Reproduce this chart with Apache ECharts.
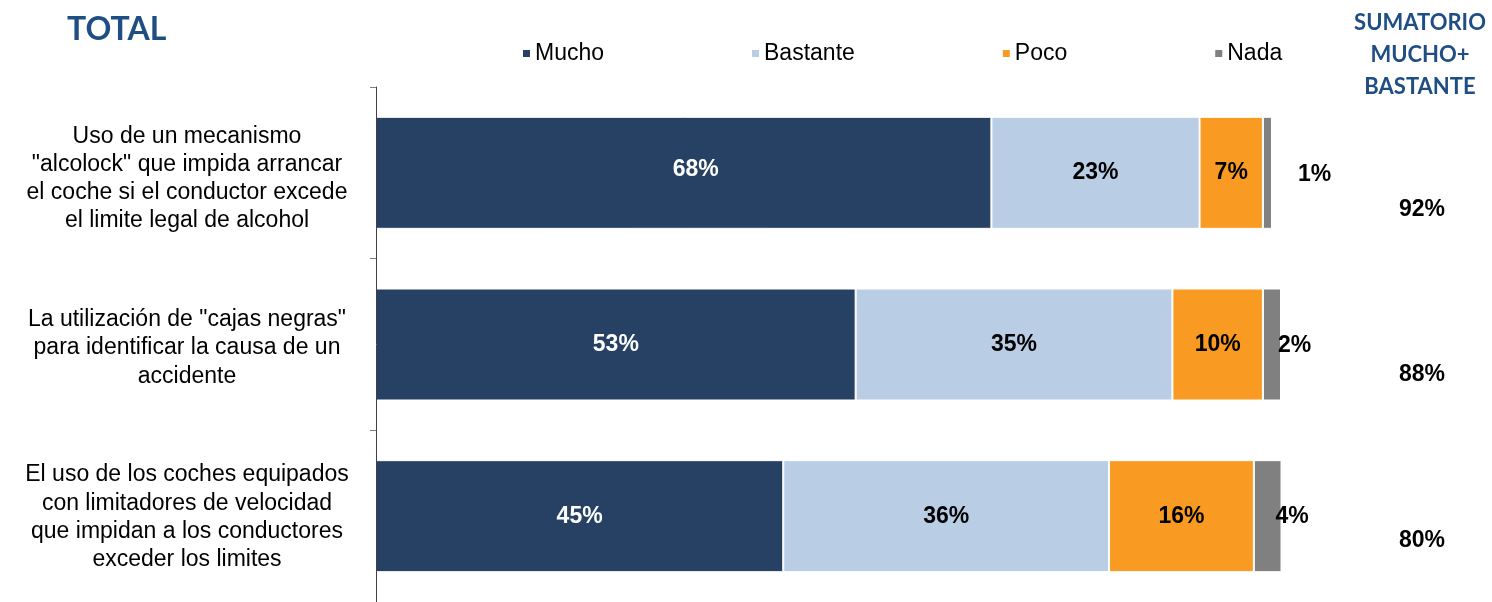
<!DOCTYPE html>
<html>
<head>
<meta charset="utf-8">
<script src="https://cdn.jsdelivr.net/npm/echarts@6/dist/echarts.min.js"></script>
<style>
  html, body { margin: 0; padding: 0; background: #fff; }
  #chart { width: 1492px; height: 602px; }
</style>
</head>
<body>
<div id="chart"></div>
<script>
// Survey items (one bar per item), top to bottom
const categories = [
  'Uso de un mecanismo\n"alcolock" que impida arrancar\nel coche si el conductor excede\nel limite legal de alcohol',
  'La utilización de "cajas negras"\npara identificar la causa de un\naccidente',
  'El uso de los coches equipados\ncon limitadores de velocidad\nque impidan a los conductores\nexceder los limites'
];
const seriesNames = ['Mucho', 'Bastante', 'Poco', 'Nada'];
const mucho    = [68, 53, 45];
const bastante = [23, 35, 36];
const poco     = [7, 10, 16];
const nada     = [1, 2, 4];
// Mucho + Bastante totals shown on the right
const sumatorio = [92, 88, 80];

const FONT = 'Liberation Sans, Arial, sans-serif';
const colors = ['#264164', '#b9cde5', '#f99b22', '#808080'];
const labelColors = ['#ffffff', '#000000', '#000000', '#000000'];

function pct(v) { return v + '%'; }

const values = [mucho, bastante, poco, nada];

// label nudges for the thin "Nada" segments and the first dark segment
const nadaOffsets = [[26, 2], [-3, 1], [-6, 0]];

const series = seriesNames.map(function (name, s) {
  return {
    name: name,
    type: 'bar',
    stack: 'total',
    barWidth: 112,
    itemStyle: { color: colors[s], borderColor: '#ffffff', borderWidth: 1 },
    label: {
      show: true,
      position: s === 3 ? 'right' : 'inside',
      distance: 0,
      color: labelColors[s],
      fontFamily: FONT,
      fontWeight: 'bold',
      fontSize: 23,
      formatter: function (p) { return pct(p.value); }
    },
    data: values[s].map(function (v, i) {
      const item = { value: v };
      if (s === 3) item.label = { offset: nadaOffsets[i] };
      if (s === 0 && i === 0) item.label = { offset: [12, -3] };
      return item;
    })
  };
});

const sumY = [210, 375, 541];
const graphics = [
  {
    type: 'text',
    x: 1420, y: 7,
    style: {
      text: 'SUMATORIO\nMUCHO+\nBASTANTE',
      align: 'center',
      verticalAlign: 'top',
      fill: '#1f4e85',
      font: 'bold 22px Lato, sans-serif',
      lineHeight: 32
    }
  }
].concat(sumatorio.map(function (v, i) {
  return {
    type: 'text',
    x: 1422, y: sumY[i],
    style: {
      text: pct(v),
      align: 'center',
      verticalAlign: 'middle',
      fill: '#000000',
      font: 'bold 23px ' + FONT
    }
  };
}));

const chart = echarts.init(document.getElementById('chart'), null, { renderer: 'canvas' });
chart.setOption({
  animation: false,
  backgroundColor: '#ffffff',
  title: {
    text: 'TOTAL',
    left: 62, top: 9,
    textStyle: { fontFamily: 'Lato, sans-serif', fontWeight: 'bold', fontSize: 32, color: '#1f4e85' }
  },
  legend: {
    data: seriesNames,
    left: 518, top: 37,
    icon: 'rect',
    itemWidth: 7, itemHeight: 7,
    itemGap: 148,
    itemStyle: { borderWidth: 0 },
    textStyle: { fontFamily: FONT, fontSize: 23, color: '#000000' }
  },
  grid: [
    { left: 376, right: 211, top: 87, bottom: -2, containLabel: false },
    // text column for the item descriptions, set slightly lower than the bars
    { left: 376, right: 211, top: 94, bottom: -9, containLabel: false }
  ],
  xAxis: [
    { type: 'value', gridIndex: 0, min: 0, max: 100, show: false },
    { type: 'value', gridIndex: 1, min: 0, max: 100, show: false }
  ],
  yAxis: [
    {
      type: 'category',
      gridIndex: 0,
      inverse: true,
      offset: 1,
      z: 5,
      data: categories,
      axisLine: { show: true, lineStyle: { color: '#404040', width: 1 } },
      axisTick: { show: true, length: 6, lineStyle: { color: '#808080' } },
      axisLabel: { show: false }
    },
    {
      type: 'category',
      gridIndex: 1,
      inverse: true,
      data: categories,
      axisLine: { show: false },
      axisTick: { show: false },
      axisLabel: {
        align: 'center',
        margin: 189,
        fontFamily: FONT,
        fontSize: 23,
        lineHeight: 28.3,
        color: '#000000'
      }
    }
  ],
  series: series,
  graphic: graphics
});
</script>
</body>
</html>
